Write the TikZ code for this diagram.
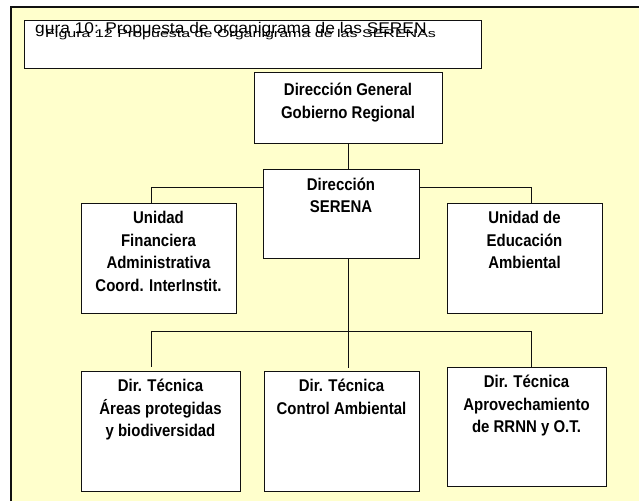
\documentclass[tikz,border=0pt]{standalone}
\usepackage{fontspec}
\setmainfont{Liberation Sans}
\newfontfamily\unitfont{Liberation Sans}[FakeStretch=0.88]
\usepackage{tikz}
\usetikzlibrary{positioning}
\definecolor{panelYellow}{HTML}{FFFFCC}
\definecolor{ink}{HTML}{111111}

\begin{document}
\begin{tikzpicture}[x=1pt,y=-1pt,
  unit/.style={draw=ink,line width=1pt,fill=white,inner sep=0pt},
  unittext/.style={font=\unitfont\bfseries\fontsize{17}{22.5}\selectfont,align=center,inner sep=0pt,
    execute at begin node=\strut},
  link/.style={draw=ink,line width=1pt}]
\useasboundingbox (0,0) rectangle (639,501);
% panel behind the chart
\fill[panelYellow] (11,7) rectangle (639,501);
\draw[ink,line width=1.4pt] (11,501) -- (11,7) -- (639,7);
% caption box
\node[draw=ink,line width=1pt,fill=white,minimum width=457pt,minimum height=48pt,inner sep=0pt] (caption) at (252.5,44) {};
\node[anchor=base west,inner sep=0pt] (capOld) at (35,33) {\scalebox{1.12}[1]{\fontsize{15.5}{18}\selectfont gura 10: Propuesta de organigrama de las SEREN}};
\node[anchor=base west,inner sep=0pt] (capNew) at (45,37.5) {\scalebox{1.43}[1]{\fontsize{11.2}{13}\selectfont Figura 12 Propuesta de Organigrama de las SERENAs}};
% boxes
\node[unit,minimum width=188pt,minimum height=71pt]  (gobierno)   at (348,107.5) {};
\node[unit,minimum width=156pt,minimum height=89pt]  (serena)     at (341,213.5) {};
\node[unit,minimum width=155pt,minimum height=110pt] (financiera) at (158.5,258) {};
\node[unit,minimum width=155pt,minimum height=110pt] (educacion)  at (524.5,258) {};
\node[unit,minimum width=159pt,minimum height=120pt] (areas)      at (160.5,431) {};
\node[unit,minimum width=155pt,minimum height=120pt] (control)    at (341.5,431) {};
\node[unit,minimum width=159pt,minimum height=119pt] (aprovech)   at (526.5,426.5) {};
% box texts
\node[unittext,below=11.5pt of gobierno.north] (gobiernoT)   {Dirección General\\Gobierno Regional};
\node[unittext,below=9pt of serena.north]      (serenaT)     {Dirección\\SERENA};
\node[unittext,below=8.5pt of financiera.north] (financieraT) {Unidad\\Financiera\\Administrativa\\Coord. InterInstit.};
\node[unittext,below=8.5pt of educacion.north] (educacionT)  {Unidad de\\Educación\\Ambiental};
\node[unittext,below=8.5pt of areas.north]     (areasT)      {Dir. Técnica\\Áreas protegidas\\y biodiversidad};
\node[unittext,below=8.5pt of control.north]   (controlT)    {Dir. Técnica\\Control Ambiental};
\node[unittext,below=8.5pt of aprovech.north]  (aprovechT)   {Dir. Técnica\\Aprovechamiento\\de RRNN y  O.T.};
% connectors
\coordinate (jL) at (151,187);
\coordinate (jR) at (531,187);
\coordinate (kL) at (151,331);
\coordinate (kR) at (531,331);
\draw[link] (gobierno.south) -- (gobierno.south |- serena.north);
\draw[link] (serena.west |- jL) -- (jL) -- (jL |- financiera.north);
\draw[link] (serena.east |- jR) -- (jR) -- (jR |- educacion.north);
\draw[link,shorten >=3pt] (gobierno.south |- serena.south) -- (gobierno.south |- control.north);
\draw[link] (kL) -- (kR);
\draw[link,shorten >=4pt] (kL) -- (kL |- areas.north);
\draw[link] (kR) -- (kR |- aprovech.north);
\end{tikzpicture}
\end{document}
